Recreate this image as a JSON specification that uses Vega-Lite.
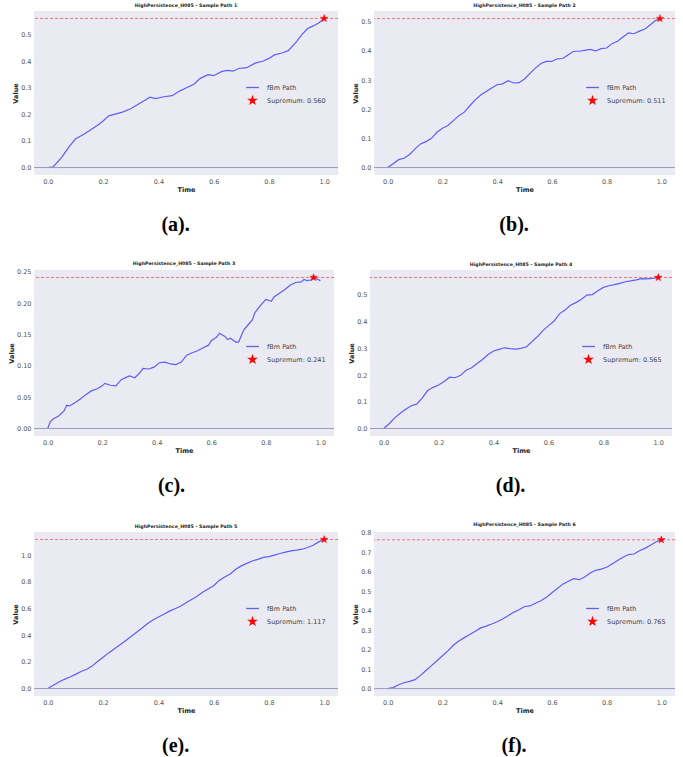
{
  "$schema": "https://vega.github.io/schema/vega-lite/v6.json",
  "background": "white",
  "padding": {"left": 8, "top": 3, "right": 2, "bottom": 0},
  "datasets": {
    "one": [{}],
    "path_a": [
      {"t":0,"v":0},{"t":0.02,"v":0.003},{"t":0.05,"v":0.038},{"t":0.08,"v":0.082},{"t":0.1,"v":0.107},{"t":0.13,"v":0.125},{"t":0.15,"v":0.138},{"t":0.18,"v":0.159},{"t":0.2,"v":0.175},{"t":0.22,"v":0.194},{"t":0.24,"v":0.2},{"t":0.27,"v":0.208},{"t":0.3,"v":0.221},{"t":0.33,"v":0.24},{"t":0.35,"v":0.252},{"t":0.37,"v":0.264},{"t":0.39,"v":0.259},{"t":0.42,"v":0.266},{"t":0.45,"v":0.27},{"t":0.48,"v":0.289},{"t":0.5,"v":0.299},{"t":0.53,"v":0.314},{"t":0.55,"v":0.334},{"t":0.58,"v":0.349},{"t":0.6,"v":0.345},{"t":0.63,"v":0.361},{"t":0.65,"v":0.365},{"t":0.67,"v":0.362},{"t":0.69,"v":0.372},{"t":0.72,"v":0.375},{"t":0.75,"v":0.392},{"t":0.78,"v":0.4},{"t":0.8,"v":0.41},{"t":0.82,"v":0.423},{"t":0.85,"v":0.431},{"t":0.87,"v":0.439},{"t":0.9,"v":0.473},{"t":0.92,"v":0.5},{"t":0.94,"v":0.522},{"t":0.96,"v":0.532},{"t":0.98,"v":0.543},{"t":1.0,"v":0.56}
    ],
    "sup_a": [{"t":1.0,"v":0.56,"s":"Supremum: 0.560"}],
    "path_b": [
      {"t":0,"v":0},{"t":0.02,"v":0.013},{"t":0.04,"v":0.027},{"t":0.06,"v":0.032},{"t":0.08,"v":0.045},{"t":0.1,"v":0.064},{"t":0.12,"v":0.081},{"t":0.14,"v":0.089},{"t":0.16,"v":0.1},{"t":0.18,"v":0.121},{"t":0.2,"v":0.135},{"t":0.22,"v":0.144},{"t":0.24,"v":0.161},{"t":0.26,"v":0.178},{"t":0.28,"v":0.19},{"t":0.3,"v":0.212},{"t":0.32,"v":0.232},{"t":0.34,"v":0.249},{"t":0.36,"v":0.261},{"t":0.38,"v":0.273},{"t":0.4,"v":0.284},{"t":0.42,"v":0.287},{"t":0.44,"v":0.298},{"t":0.46,"v":0.29},{"t":0.48,"v":0.291},{"t":0.5,"v":0.304},{"t":0.52,"v":0.323},{"t":0.54,"v":0.341},{"t":0.56,"v":0.357},{"t":0.58,"v":0.364},{"t":0.6,"v":0.364},{"t":0.62,"v":0.373},{"t":0.64,"v":0.374},{"t":0.66,"v":0.387},{"t":0.68,"v":0.399},{"t":0.7,"v":0.399},{"t":0.72,"v":0.402},{"t":0.74,"v":0.405},{"t":0.76,"v":0.4},{"t":0.78,"v":0.408},{"t":0.8,"v":0.41},{"t":0.82,"v":0.425},{"t":0.84,"v":0.433},{"t":0.86,"v":0.448},{"t":0.88,"v":0.462},{"t":0.9,"v":0.459},{"t":0.92,"v":0.468},{"t":0.94,"v":0.475},{"t":0.96,"v":0.49},{"t":0.98,"v":0.505},{"t":0.995,"v":0.511},{"t":1.0,"v":0.51}
    ],
    "sup_b": [{"t":0.995,"v":0.511,"s":"Supremum: 0.511"}],
    "path_c": [
      {"t":0,"v":0},{"t":0.01,"v":0.011},{"t":0.02,"v":0.015},{"t":0.04,"v":0.02},{"t":0.06,"v":0.028},{"t":0.07,"v":0.037},{"t":0.08,"v":0.036},{"t":0.1,"v":0.041},{"t":0.12,"v":0.047},{"t":0.14,"v":0.054},{"t":0.16,"v":0.06},{"t":0.18,"v":0.063},{"t":0.2,"v":0.068},{"t":0.21,"v":0.072},{"t":0.23,"v":0.069},{"t":0.25,"v":0.068},{"t":0.27,"v":0.078},{"t":0.29,"v":0.082},{"t":0.3,"v":0.084},{"t":0.32,"v":0.081},{"t":0.34,"v":0.09},{"t":0.35,"v":0.096},{"t":0.37,"v":0.095},{"t":0.39,"v":0.098},{"t":0.41,"v":0.105},{"t":0.43,"v":0.106},{"t":0.45,"v":0.103},{"t":0.47,"v":0.102},{"t":0.49,"v":0.106},{"t":0.51,"v":0.117},{"t":0.53,"v":0.121},{"t":0.55,"v":0.124},{"t":0.57,"v":0.129},{"t":0.59,"v":0.133},{"t":0.6,"v":0.14},{"t":0.62,"v":0.146},{"t":0.63,"v":0.152},{"t":0.65,"v":0.147},{"t":0.66,"v":0.142},{"t":0.67,"v":0.144},{"t":0.69,"v":0.138},{"t":0.7,"v":0.138},{"t":0.72,"v":0.158},{"t":0.74,"v":0.168},{"t":0.75,"v":0.173},{"t":0.76,"v":0.185},{"t":0.78,"v":0.196},{"t":0.8,"v":0.206},{"t":0.82,"v":0.203},{"t":0.83,"v":0.21},{"t":0.85,"v":0.216},{"t":0.87,"v":0.222},{"t":0.89,"v":0.229},{"t":0.91,"v":0.233},{"t":0.93,"v":0.234},{"t":0.94,"v":0.238},{"t":0.95,"v":0.236},{"t":0.965,"v":0.237},{"t":0.975,"v":0.241},{"t":1.0,"v":0.236}
    ],
    "sup_c": [{"t":0.975,"v":0.241,"s":"Supremum: 0.241"}],
    "path_d": [
      {"t":0,"v":0},{"t":0.02,"v":0.018},{"t":0.04,"v":0.04},{"t":0.06,"v":0.057},{"t":0.08,"v":0.072},{"t":0.1,"v":0.085},{"t":0.12,"v":0.091},{"t":0.14,"v":0.114},{"t":0.16,"v":0.142},{"t":0.18,"v":0.154},{"t":0.2,"v":0.163},{"t":0.22,"v":0.176},{"t":0.24,"v":0.192},{"t":0.26,"v":0.19},{"t":0.28,"v":0.199},{"t":0.3,"v":0.218},{"t":0.32,"v":0.227},{"t":0.34,"v":0.243},{"t":0.36,"v":0.258},{"t":0.38,"v":0.277},{"t":0.4,"v":0.29},{"t":0.42,"v":0.296},{"t":0.44,"v":0.302},{"t":0.46,"v":0.299},{"t":0.48,"v":0.297},{"t":0.5,"v":0.3},{"t":0.52,"v":0.306},{"t":0.54,"v":0.325},{"t":0.56,"v":0.344},{"t":0.58,"v":0.366},{"t":0.6,"v":0.385},{"t":0.62,"v":0.401},{"t":0.64,"v":0.429},{"t":0.66,"v":0.443},{"t":0.68,"v":0.461},{"t":0.7,"v":0.471},{"t":0.72,"v":0.484},{"t":0.74,"v":0.499},{"t":0.76,"v":0.501},{"t":0.78,"v":0.515},{"t":0.8,"v":0.528},{"t":0.82,"v":0.534},{"t":0.84,"v":0.538},{"t":0.86,"v":0.543},{"t":0.88,"v":0.549},{"t":0.9,"v":0.552},{"t":0.92,"v":0.556},{"t":0.94,"v":0.561},{"t":0.96,"v":0.56},{"t":0.98,"v":0.562},{"t":1.0,"v":0.565}
    ],
    "sup_d": [{"t":1.0,"v":0.565,"s":"Supremum: 0.565"}],
    "path_e": [
      {"t":0,"v":0},{"t":0.02,"v":0.025},{"t":0.04,"v":0.049},{"t":0.06,"v":0.069},{"t":0.08,"v":0.086},{"t":0.1,"v":0.106},{"t":0.12,"v":0.128},{"t":0.14,"v":0.143},{"t":0.16,"v":0.168},{"t":0.18,"v":0.202},{"t":0.2,"v":0.235},{"t":0.22,"v":0.267},{"t":0.24,"v":0.296},{"t":0.26,"v":0.326},{"t":0.28,"v":0.356},{"t":0.3,"v":0.388},{"t":0.32,"v":0.42},{"t":0.34,"v":0.452},{"t":0.36,"v":0.486},{"t":0.38,"v":0.514},{"t":0.4,"v":0.536},{"t":0.42,"v":0.556},{"t":0.44,"v":0.58},{"t":0.46,"v":0.598},{"t":0.48,"v":0.617},{"t":0.5,"v":0.642},{"t":0.52,"v":0.667},{"t":0.54,"v":0.691},{"t":0.56,"v":0.721},{"t":0.58,"v":0.746},{"t":0.6,"v":0.77},{"t":0.62,"v":0.81},{"t":0.64,"v":0.835},{"t":0.66,"v":0.859},{"t":0.68,"v":0.894},{"t":0.7,"v":0.919},{"t":0.72,"v":0.938},{"t":0.74,"v":0.956},{"t":0.76,"v":0.968},{"t":0.78,"v":0.983},{"t":0.8,"v":0.988},{"t":0.82,"v":1.0},{"t":0.84,"v":1.012},{"t":0.86,"v":1.022},{"t":0.88,"v":1.032},{"t":0.9,"v":1.037},{"t":0.92,"v":1.044},{"t":0.94,"v":1.057},{"t":0.96,"v":1.074},{"t":0.98,"v":1.099},{"t":1.0,"v":1.117}
    ],
    "sup_e": [{"t":1.0,"v":1.117,"s":"Supremum: 1.117"}],
    "path_f": [
      {"t":0,"v":0},{"t":0.02,"v":0.005},{"t":0.04,"v":0.02},{"t":0.06,"v":0.03},{"t":0.08,"v":0.037},{"t":0.1,"v":0.046},{"t":0.12,"v":0.068},{"t":0.14,"v":0.093},{"t":0.16,"v":0.118},{"t":0.18,"v":0.143},{"t":0.2,"v":0.169},{"t":0.22,"v":0.194},{"t":0.24,"v":0.223},{"t":0.26,"v":0.245},{"t":0.28,"v":0.262},{"t":0.3,"v":0.278},{"t":0.32,"v":0.295},{"t":0.34,"v":0.312},{"t":0.36,"v":0.321},{"t":0.38,"v":0.332},{"t":0.4,"v":0.344},{"t":0.42,"v":0.358},{"t":0.44,"v":0.375},{"t":0.46,"v":0.392},{"t":0.48,"v":0.405},{"t":0.5,"v":0.422},{"t":0.52,"v":0.425},{"t":0.54,"v":0.439},{"t":0.56,"v":0.452},{"t":0.58,"v":0.469},{"t":0.6,"v":0.493},{"t":0.62,"v":0.515},{"t":0.64,"v":0.537},{"t":0.66,"v":0.552},{"t":0.68,"v":0.565},{"t":0.7,"v":0.56},{"t":0.72,"v":0.574},{"t":0.74,"v":0.594},{"t":0.76,"v":0.608},{"t":0.78,"v":0.614},{"t":0.8,"v":0.624},{"t":0.82,"v":0.641},{"t":0.84,"v":0.658},{"t":0.86,"v":0.675},{"t":0.88,"v":0.689},{"t":0.9,"v":0.692},{"t":0.92,"v":0.709},{"t":0.94,"v":0.721},{"t":0.96,"v":0.737},{"t":0.98,"v":0.754},{"t":1.0,"v":0.765}
    ],
    "sup_f": [{"t":1.0,"v":0.765,"s":"Supremum: 0.765"}]
  },
  "resolve": {"scale": {"shape": "independent", "fill": "independent", "stroke": "independent"}, "legend": {"shape": "independent", "fill": "independent", "stroke": "independent"}},
  "spacing": 26,
  "vconcat": [
    {
      "resolve": {"scale": {"shape": "independent", "fill": "independent", "stroke": "independent"}, "legend": {"shape": "independent", "fill": "independent", "stroke": "independent"}},
      "spacing": 13,
      "hconcat": [
        {
          "title": {"text": "(a).", "orient": "bottom", "anchor": "middle", "font": "Liberation Serif", "fontSize": 20, "fontWeight": "bold", "color": "black", "offset": 22},
          "resolve": {"scale": {"shape": "independent", "fill": "independent", "stroke": "independent"}, "legend": {"shape": "independent", "fill": "independent", "stroke": "independent"}},
          "vconcat": [
            {
              "width": 304, "height": 164,
              "title": {"text": "HighPersistence_H085 - Sample Path 1", "font": "DejaVu Sans", "fontSize": 4.7, "fontWeight": "bold", "color": "#222", "anchor": "middle", "frame": "group", "offset": 3},
              "layer": [
                {"data": {"name": "path_a"}, "mark": {"type": "line", "color": "blue", "opacity": 0.6, "strokeWidth": 1.2},
                 "encoding": {
                   "x": {"field": "t", "type": "quantitative", "scale": {"domain": [-0.05, 1.05], "nice": false, "zero": false}, "axis": {"values": [0, 0.2, 0.4, 0.6, 0.8, 1], "format": ".1f", "title": "Time"}},
                   "y": {"field": "v", "type": "quantitative", "scale": {"domain": [-0.028, 0.588], "nice": false, "zero": false}, "axis": {"values": [0, 0.1, 0.2, 0.3, 0.4, 0.5], "format": ".1f", "title": "Value"}}}},
                {"data": {"name": "one"}, "mark": {"type": "rule", "color": "#9d97c6", "strokeWidth": 1},
                 "encoding": {
                   "y": {"datum": 0, "type": "quantitative", "scale": {"domain": [-0.028, 0.588], "nice": false, "zero": false}, "axis": {"values": [0, 0.1, 0.2, 0.3, 0.4, 0.5], "format": ".1f", "title": "Value"}}}},
                {"data": {"name": "sup_a"}, "mark": {"type": "rule", "color": "red", "opacity": 0.5, "strokeDash": [3, 2], "strokeWidth": 1},
                 "encoding": {
                   "y": {"field": "v", "type": "quantitative", "scale": {"domain": [-0.028, 0.588], "nice": false, "zero": false}, "axis": {"values": [0, 0.1, 0.2, 0.3, 0.4, 0.5], "format": ".1f", "title": "Value"}}}},
                {"data": {"name": "sup_a"}, "mark": {"type": "point", "filled": true, "opacity": 1, "size": 60, "strokeWidth": 0.5},
                 "encoding": {
                   "x": {"field": "t", "type": "quantitative", "scale": {"domain": [-0.05, 1.05], "nice": false, "zero": false}, "axis": {"values": [0, 0.2, 0.4, 0.6, 0.8, 1], "format": ".1f", "title": "Time"}},
                   "y": {"field": "v", "type": "quantitative", "scale": {"domain": [-0.028, 0.588], "nice": false, "zero": false}, "axis": {"values": [0, 0.1, 0.2, 0.3, 0.4, 0.5], "format": ".1f", "title": "Value"}},
                   "shape": {"field": "s", "type": "nominal", "scale": {"domain": ["fBm Path", "Supremum: 0.560"], "range": ["M-1.8,0L1.8,0", "M0,-1L0.2245,-0.309L0.951,-0.309L0.363,0.118L0.588,0.809L0,0.382L-0.588,0.809L-0.363,0.118L-0.951,-0.309L-0.2245,-0.309Z"]}, "legend": {"title": null}},
                   "fill": {"field": "s", "type": "nominal", "scale": {"domain": ["fBm Path", "Supremum: 0.560"], "range": ["#6262dc", "red"]}, "legend": {"title": null}},
                   "stroke": {"field": "s", "type": "nominal", "scale": {"domain": ["fBm Path", "Supremum: 0.560"], "range": ["#6262dc", "red"]}, "legend": {"title": null}}}}
              ]
            }
          ]
        },
        {
          "title": {"text": "(b).", "orient": "bottom", "anchor": "middle", "font": "Liberation Serif", "fontSize": 20, "fontWeight": "bold", "color": "black", "offset": 22},
          "resolve": {"scale": {"shape": "independent", "fill": "independent", "stroke": "independent"}, "legend": {"shape": "independent", "fill": "independent", "stroke": "independent"}},
          "vconcat": [
            {
              "width": 301, "height": 164,
              "title": {"text": "HighPersistence_H085 - Sample Path 2", "font": "DejaVu Sans", "fontSize": 4.7, "fontWeight": "bold", "color": "#222", "anchor": "middle", "frame": "group", "offset": 3},
              "layer": [
                {"data": {"name": "path_b"}, "mark": {"type": "line", "color": "blue", "opacity": 0.6, "strokeWidth": 1.2},
                 "encoding": {
                   "x": {"field": "t", "type": "quantitative", "scale": {"domain": [-0.05, 1.05], "nice": false, "zero": false}, "axis": {"values": [0, 0.2, 0.4, 0.6, 0.8, 1], "format": ".1f", "title": "Time"}},
                   "y": {"field": "v", "type": "quantitative", "scale": {"domain": [-0.0256, 0.537], "nice": false, "zero": false}, "axis": {"values": [0, 0.1, 0.2, 0.3, 0.4, 0.5], "format": ".1f", "title": "Value"}}}},
                {"data": {"name": "one"}, "mark": {"type": "rule", "color": "#9d97c6", "strokeWidth": 1},
                 "encoding": {
                   "y": {"datum": 0, "type": "quantitative", "scale": {"domain": [-0.0256, 0.537], "nice": false, "zero": false}, "axis": {"values": [0, 0.1, 0.2, 0.3, 0.4, 0.5], "format": ".1f", "title": "Value"}}}},
                {"data": {"name": "sup_b"}, "mark": {"type": "rule", "color": "red", "opacity": 0.5, "strokeDash": [3, 2], "strokeWidth": 1},
                 "encoding": {
                   "y": {"field": "v", "type": "quantitative", "scale": {"domain": [-0.0256, 0.537], "nice": false, "zero": false}, "axis": {"values": [0, 0.1, 0.2, 0.3, 0.4, 0.5], "format": ".1f", "title": "Value"}}}},
                {"data": {"name": "sup_b"}, "mark": {"type": "point", "filled": true, "opacity": 1, "size": 60, "strokeWidth": 0.5},
                 "encoding": {
                   "x": {"field": "t", "type": "quantitative", "scale": {"domain": [-0.05, 1.05], "nice": false, "zero": false}, "axis": {"values": [0, 0.2, 0.4, 0.6, 0.8, 1], "format": ".1f", "title": "Time"}},
                   "y": {"field": "v", "type": "quantitative", "scale": {"domain": [-0.0256, 0.537], "nice": false, "zero": false}, "axis": {"values": [0, 0.1, 0.2, 0.3, 0.4, 0.5], "format": ".1f", "title": "Value"}},
                   "shape": {"field": "s", "type": "nominal", "scale": {"domain": ["fBm Path", "Supremum: 0.511"], "range": ["M-1.8,0L1.8,0", "M0,-1L0.2245,-0.309L0.951,-0.309L0.363,0.118L0.588,0.809L0,0.382L-0.588,0.809L-0.363,0.118L-0.951,-0.309L-0.2245,-0.309Z"]}, "legend": {"title": null}},
                   "fill": {"field": "s", "type": "nominal", "scale": {"domain": ["fBm Path", "Supremum: 0.511"], "range": ["#6262dc", "red"]}, "legend": {"title": null}},
                   "stroke": {"field": "s", "type": "nominal", "scale": {"domain": ["fBm Path", "Supremum: 0.511"], "range": ["#6262dc", "red"]}, "legend": {"title": null}}}}
              ]
            }
          ]
        }
      ]
    },
    {
      "resolve": {"scale": {"shape": "independent", "fill": "independent", "stroke": "independent"}, "legend": {"shape": "independent", "fill": "independent", "stroke": "independent"}},
      "spacing": 13,
      "hconcat": [
        {
          "title": {"text": "(c).", "orient": "bottom", "anchor": "middle", "font": "Liberation Serif", "fontSize": 20, "fontWeight": "bold", "color": "black", "offset": 22},
          "resolve": {"scale": {"shape": "independent", "fill": "independent", "stroke": "independent"}, "legend": {"shape": "independent", "fill": "independent", "stroke": "independent"}},
          "vconcat": [
            {
              "width": 300, "height": 166,
              "title": {"text": "HighPersistence_H085 - Sample Path 3", "font": "DejaVu Sans", "fontSize": 4.7, "fontWeight": "bold", "color": "#222", "anchor": "middle", "frame": "group", "offset": 3},
              "layer": [
                {"data": {"name": "path_c"}, "mark": {"type": "line", "color": "blue", "opacity": 0.6, "strokeWidth": 1.2},
                 "encoding": {
                   "x": {"field": "t", "type": "quantitative", "scale": {"domain": [-0.05, 1.05], "nice": false, "zero": false}, "axis": {"values": [0, 0.2, 0.4, 0.6, 0.8, 1], "format": ".1f", "title": "Time"}},
                   "y": {"field": "v", "type": "quantitative", "scale": {"domain": [-0.012, 0.253], "nice": false, "zero": false}, "axis": {"values": [0, 0.05, 0.1, 0.15, 0.2, 0.25], "format": ".2f", "title": "Value"}}}},
                {"data": {"name": "one"}, "mark": {"type": "rule", "color": "#9d97c6", "strokeWidth": 1},
                 "encoding": {
                   "y": {"datum": 0, "type": "quantitative", "scale": {"domain": [-0.012, 0.253], "nice": false, "zero": false}, "axis": {"values": [0, 0.05, 0.1, 0.15, 0.2, 0.25], "format": ".2f", "title": "Value"}}}},
                {"data": {"name": "sup_c"}, "mark": {"type": "rule", "color": "red", "opacity": 0.5, "strokeDash": [3, 2], "strokeWidth": 1},
                 "encoding": {
                   "y": {"field": "v", "type": "quantitative", "scale": {"domain": [-0.012, 0.253], "nice": false, "zero": false}, "axis": {"values": [0, 0.05, 0.1, 0.15, 0.2, 0.25], "format": ".2f", "title": "Value"}}}},
                {"data": {"name": "sup_c"}, "mark": {"type": "point", "filled": true, "opacity": 1, "size": 60, "strokeWidth": 0.5},
                 "encoding": {
                   "x": {"field": "t", "type": "quantitative", "scale": {"domain": [-0.05, 1.05], "nice": false, "zero": false}, "axis": {"values": [0, 0.2, 0.4, 0.6, 0.8, 1], "format": ".1f", "title": "Time"}},
                   "y": {"field": "v", "type": "quantitative", "scale": {"domain": [-0.012, 0.253], "nice": false, "zero": false}, "axis": {"values": [0, 0.05, 0.1, 0.15, 0.2, 0.25], "format": ".2f", "title": "Value"}},
                   "shape": {"field": "s", "type": "nominal", "scale": {"domain": ["fBm Path", "Supremum: 0.241"], "range": ["M-1.8,0L1.8,0", "M0,-1L0.2245,-0.309L0.951,-0.309L0.363,0.118L0.588,0.809L0,0.382L-0.588,0.809L-0.363,0.118L-0.951,-0.309L-0.2245,-0.309Z"]}, "legend": {"title": null}},
                   "fill": {"field": "s", "type": "nominal", "scale": {"domain": ["fBm Path", "Supremum: 0.241"], "range": ["#6262dc", "red"]}, "legend": {"title": null}},
                   "stroke": {"field": "s", "type": "nominal", "scale": {"domain": ["fBm Path", "Supremum: 0.241"], "range": ["#6262dc", "red"]}, "legend": {"title": null}}}}
              ]
            }
          ]
        },
        {
          "title": {"text": "(d).", "orient": "bottom", "anchor": "middle", "font": "Liberation Serif", "fontSize": 20, "fontWeight": "bold", "color": "black", "offset": 22},
          "resolve": {"scale": {"shape": "independent", "fill": "independent", "stroke": "independent"}, "legend": {"shape": "independent", "fill": "independent", "stroke": "independent"}},
          "vconcat": [
            {
              "width": 302, "height": 166,
              "title": {"text": "HighPersistence_H085 - Sample Path 4", "font": "DejaVu Sans", "fontSize": 4.7, "fontWeight": "bold", "color": "#222", "anchor": "middle", "frame": "group", "offset": 3},
              "layer": [
                {"data": {"name": "path_d"}, "mark": {"type": "line", "color": "blue", "opacity": 0.6, "strokeWidth": 1.2},
                 "encoding": {
                   "x": {"field": "t", "type": "quantitative", "scale": {"domain": [-0.05, 1.05], "nice": false, "zero": false}, "axis": {"values": [0, 0.2, 0.4, 0.6, 0.8, 1], "format": ".1f", "title": "Time"}},
                   "y": {"field": "v", "type": "quantitative", "scale": {"domain": [-0.028, 0.593], "nice": false, "zero": false}, "axis": {"values": [0, 0.1, 0.2, 0.3, 0.4, 0.5], "format": ".1f", "title": "Value"}}}},
                {"data": {"name": "one"}, "mark": {"type": "rule", "color": "#9d97c6", "strokeWidth": 1},
                 "encoding": {
                   "y": {"datum": 0, "type": "quantitative", "scale": {"domain": [-0.028, 0.593], "nice": false, "zero": false}, "axis": {"values": [0, 0.1, 0.2, 0.3, 0.4, 0.5], "format": ".1f", "title": "Value"}}}},
                {"data": {"name": "sup_d"}, "mark": {"type": "rule", "color": "red", "opacity": 0.5, "strokeDash": [3, 2], "strokeWidth": 1},
                 "encoding": {
                   "y": {"field": "v", "type": "quantitative", "scale": {"domain": [-0.028, 0.593], "nice": false, "zero": false}, "axis": {"values": [0, 0.1, 0.2, 0.3, 0.4, 0.5], "format": ".1f", "title": "Value"}}}},
                {"data": {"name": "sup_d"}, "mark": {"type": "point", "filled": true, "opacity": 1, "size": 60, "strokeWidth": 0.5},
                 "encoding": {
                   "x": {"field": "t", "type": "quantitative", "scale": {"domain": [-0.05, 1.05], "nice": false, "zero": false}, "axis": {"values": [0, 0.2, 0.4, 0.6, 0.8, 1], "format": ".1f", "title": "Time"}},
                   "y": {"field": "v", "type": "quantitative", "scale": {"domain": [-0.028, 0.593], "nice": false, "zero": false}, "axis": {"values": [0, 0.1, 0.2, 0.3, 0.4, 0.5], "format": ".1f", "title": "Value"}},
                   "shape": {"field": "s", "type": "nominal", "scale": {"domain": ["fBm Path", "Supremum: 0.565"], "range": ["M-1.8,0L1.8,0", "M0,-1L0.2245,-0.309L0.951,-0.309L0.363,0.118L0.588,0.809L0,0.382L-0.588,0.809L-0.363,0.118L-0.951,-0.309L-0.2245,-0.309Z"]}, "legend": {"title": null}},
                   "fill": {"field": "s", "type": "nominal", "scale": {"domain": ["fBm Path", "Supremum: 0.565"], "range": ["#6262dc", "red"]}, "legend": {"title": null}},
                   "stroke": {"field": "s", "type": "nominal", "scale": {"domain": ["fBm Path", "Supremum: 0.565"], "range": ["#6262dc", "red"]}, "legend": {"title": null}}}}
              ]
            }
          ]
        }
      ]
    },
    {
      "resolve": {"scale": {"shape": "independent", "fill": "independent", "stroke": "independent"}, "legend": {"shape": "independent", "fill": "independent", "stroke": "independent"}},
      "spacing": 13,
      "hconcat": [
        {
          "title": {"text": "(e).", "orient": "bottom", "anchor": "middle", "font": "Liberation Serif", "fontSize": 20, "fontWeight": "bold", "color": "black", "offset": 22},
          "resolve": {"scale": {"shape": "independent", "fill": "independent", "stroke": "independent"}, "legend": {"shape": "independent", "fill": "independent", "stroke": "independent"}},
          "vconcat": [
            {
              "width": 304, "height": 164,
              "title": {"text": "HighPersistence_H085 - Sample Path 5", "font": "DejaVu Sans", "fontSize": 4.7, "fontWeight": "bold", "color": "#222", "anchor": "middle", "frame": "group", "offset": 3},
              "layer": [
                {"data": {"name": "path_e"}, "mark": {"type": "line", "color": "blue", "opacity": 0.6, "strokeWidth": 1.2},
                 "encoding": {
                   "x": {"field": "t", "type": "quantitative", "scale": {"domain": [-0.05, 1.05], "nice": false, "zero": false}, "axis": {"values": [0, 0.2, 0.4, 0.6, 0.8, 1], "format": ".1f", "title": "Time"}},
                   "y": {"field": "v", "type": "quantitative", "scale": {"domain": [-0.056, 1.173], "nice": false, "zero": false}, "axis": {"values": [0, 0.2, 0.4, 0.6, 0.8, 1.0], "format": ".1f", "title": "Value"}}}},
                {"data": {"name": "one"}, "mark": {"type": "rule", "color": "#9d97c6", "strokeWidth": 1},
                 "encoding": {
                   "y": {"datum": 0, "type": "quantitative", "scale": {"domain": [-0.056, 1.173], "nice": false, "zero": false}, "axis": {"values": [0, 0.2, 0.4, 0.6, 0.8, 1.0], "format": ".1f", "title": "Value"}}}},
                {"data": {"name": "sup_e"}, "mark": {"type": "rule", "color": "red", "opacity": 0.5, "strokeDash": [3, 2], "strokeWidth": 1},
                 "encoding": {
                   "y": {"field": "v", "type": "quantitative", "scale": {"domain": [-0.056, 1.173], "nice": false, "zero": false}, "axis": {"values": [0, 0.2, 0.4, 0.6, 0.8, 1.0], "format": ".1f", "title": "Value"}}}},
                {"data": {"name": "sup_e"}, "mark": {"type": "point", "filled": true, "opacity": 1, "size": 60, "strokeWidth": 0.5},
                 "encoding": {
                   "x": {"field": "t", "type": "quantitative", "scale": {"domain": [-0.05, 1.05], "nice": false, "zero": false}, "axis": {"values": [0, 0.2, 0.4, 0.6, 0.8, 1], "format": ".1f", "title": "Time"}},
                   "y": {"field": "v", "type": "quantitative", "scale": {"domain": [-0.056, 1.173], "nice": false, "zero": false}, "axis": {"values": [0, 0.2, 0.4, 0.6, 0.8, 1.0], "format": ".1f", "title": "Value"}},
                   "shape": {"field": "s", "type": "nominal", "scale": {"domain": ["fBm Path", "Supremum: 1.117"], "range": ["M-1.8,0L1.8,0", "M0,-1L0.2245,-0.309L0.951,-0.309L0.363,0.118L0.588,0.809L0,0.382L-0.588,0.809L-0.363,0.118L-0.951,-0.309L-0.2245,-0.309Z"]}, "legend": {"title": null}},
                   "fill": {"field": "s", "type": "nominal", "scale": {"domain": ["fBm Path", "Supremum: 1.117"], "range": ["#6262dc", "red"]}, "legend": {"title": null}},
                   "stroke": {"field": "s", "type": "nominal", "scale": {"domain": ["fBm Path", "Supremum: 1.117"], "range": ["#6262dc", "red"]}, "legend": {"title": null}}}}
              ]
            }
          ]
        },
        {
          "title": {"text": "(f).", "orient": "bottom", "anchor": "middle", "font": "Liberation Serif", "fontSize": 20, "fontWeight": "bold", "color": "black", "offset": 22},
          "resolve": {"scale": {"shape": "independent", "fill": "independent", "stroke": "independent"}, "legend": {"shape": "independent", "fill": "independent", "stroke": "independent"}},
          "vconcat": [
            {
              "width": 301, "height": 164,
              "title": {"text": "HighPersistence_H085 - Sample Path 6", "font": "DejaVu Sans", "fontSize": 4.7, "fontWeight": "bold", "color": "#222", "anchor": "middle", "frame": "group", "offset": 3},
              "layer": [
                {"data": {"name": "path_f"}, "mark": {"type": "line", "color": "blue", "opacity": 0.6, "strokeWidth": 1.2},
                 "encoding": {
                   "x": {"field": "t", "type": "quantitative", "scale": {"domain": [-0.05, 1.05], "nice": false, "zero": false}, "axis": {"values": [0, 0.2, 0.4, 0.6, 0.8, 1], "format": ".1f", "title": "Time"}},
                   "y": {"field": "v", "type": "quantitative", "scale": {"domain": [-0.038, 0.805], "nice": false, "zero": false}, "axis": {"values": [0, 0.1, 0.2, 0.3, 0.4, 0.5, 0.6, 0.7, 0.8], "format": ".1f", "title": "Value"}}}},
                {"data": {"name": "one"}, "mark": {"type": "rule", "color": "#9d97c6", "strokeWidth": 1},
                 "encoding": {
                   "y": {"datum": 0, "type": "quantitative", "scale": {"domain": [-0.038, 0.805], "nice": false, "zero": false}, "axis": {"values": [0, 0.1, 0.2, 0.3, 0.4, 0.5, 0.6, 0.7, 0.8], "format": ".1f", "title": "Value"}}}},
                {"data": {"name": "sup_f"}, "mark": {"type": "rule", "color": "red", "opacity": 0.5, "strokeDash": [3, 2], "strokeWidth": 1},
                 "encoding": {
                   "y": {"field": "v", "type": "quantitative", "scale": {"domain": [-0.038, 0.805], "nice": false, "zero": false}, "axis": {"values": [0, 0.1, 0.2, 0.3, 0.4, 0.5, 0.6, 0.7, 0.8], "format": ".1f", "title": "Value"}}}},
                {"data": {"name": "sup_f"}, "mark": {"type": "point", "filled": true, "opacity": 1, "size": 60, "strokeWidth": 0.5},
                 "encoding": {
                   "x": {"field": "t", "type": "quantitative", "scale": {"domain": [-0.05, 1.05], "nice": false, "zero": false}, "axis": {"values": [0, 0.2, 0.4, 0.6, 0.8, 1], "format": ".1f", "title": "Time"}},
                   "y": {"field": "v", "type": "quantitative", "scale": {"domain": [-0.038, 0.805], "nice": false, "zero": false}, "axis": {"values": [0, 0.1, 0.2, 0.3, 0.4, 0.5, 0.6, 0.7, 0.8], "format": ".1f", "title": "Value"}},
                   "shape": {"field": "s", "type": "nominal", "scale": {"domain": ["fBm Path", "Supremum: 0.765"], "range": ["M-1.8,0L1.8,0", "M0,-1L0.2245,-0.309L0.951,-0.309L0.363,0.118L0.588,0.809L0,0.382L-0.588,0.809L-0.363,0.118L-0.951,-0.309L-0.2245,-0.309Z"]}, "legend": {"title": null}},
                   "fill": {"field": "s", "type": "nominal", "scale": {"domain": ["fBm Path", "Supremum: 0.765"], "range": ["#6262dc", "red"]}, "legend": {"title": null}},
                   "stroke": {"field": "s", "type": "nominal", "scale": {"domain": ["fBm Path", "Supremum: 0.765"], "range": ["#6262dc", "red"]}, "legend": {"title": null}}}}
              ]
            }
          ]
        }
      ]
    }
  ],
  "config": {
    "view": {"fill": "#EAEAF2", "stroke": null},
    "axis": {"grid": false, "domain": false, "ticks": false, "labelOverlap": false, "labelFont": "DejaVu Sans", "labelFontSize": 6.5, "labelColor": "#555", "labelPadding": 3, "titleFont": "DejaVu Sans", "titleFontSize": 6.5, "titleFontWeight": "bold", "titleColor": "#222", "titlePadding": 2},
    "legend": {"orient": "none", "legendX": 214, "legendY": 72, "labelFont": "DejaVu Sans", "labelFontSize": 6.5, "labelColor": "#444", "symbolSize": 50, "symbolStrokeWidth": 1.3, "symbolOpacity": 1, "rowPadding": 3, "labelOffset": 10}
  }
}
